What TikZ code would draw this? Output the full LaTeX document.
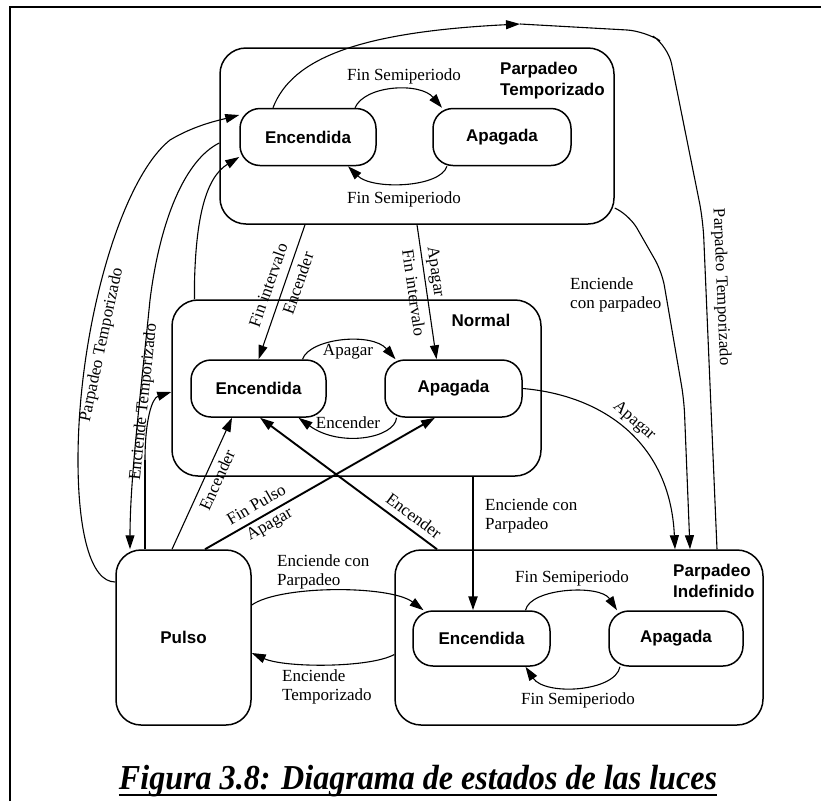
\documentclass[tikz,border=0pt]{standalone}
\usepackage{fontspec}
\setmainfont{Liberation Serif}
\newfontfamily\statefont{Liberation Sans}
\usetikzlibrary{arrows.meta,calc}

\begin{document}
\begin{tikzpicture}[x=1pt,y=-1pt,
  tip/.style={-{Triangle[length=14pt,width=9pt]}},
  conn/.style={line width=1.1pt, tip},
  heavy/.style={line width=2.3pt},
  superstate/.style={draw, line width=1.5pt, rounded corners=26pt, inner sep=0pt},
  substate/.style={draw, line width=1.5pt, rounded corners=20pt, minimum height=57pt,
    inner sep=0pt, font=\statefont\bfseries\fontsize{17}{20}\selectfont},
  lbl/.style={font=\fontsize{17}{19}\selectfont, inner sep=0pt},
  boxtitle/.style={font=\statefont\bfseries\fontsize{17}{21}\selectfont, align=left, inner sep=0pt},
]
\useasboundingbox (0,0) rectangle (821,801);

% page frame
\draw[line width=1.8pt] (10,801) -- (10,7) -- (821,7);

% ---- Parpadeo Temporizado ----
\node[superstate, minimum width=394pt, minimum height=176pt] (ptbox) at (417,136) {};
\node[substate, minimum width=136pt] (pte) at (308,137) {Encendida};
\node[substate, minimum width=138pt] (pta) at (502,137) {Apagada};
\node[boxtitle, anchor=west] (ptname) at (500,81) {Parpadeo\\Temporizado};

% ---- Normal ----
\node[superstate, minimum width=369pt, minimum height=176pt] (nbox) at (356.5,388) {};
\node[substate, minimum width=135pt] (ne) at (258.5,388.5) {Encendida};
\node[substate, minimum width=137pt] (na) at (453.5,388.5) {Apagada};
\node[boxtitle] (nname) at (481,320) {Normal};

% ---- Pulso ----
\node[superstate, minimum width=135pt, minimum height=175pt, rounded corners=25pt,
  font=\statefont\bfseries\fontsize{17}{20}\selectfont] (pulso) at (183.5,637.5) {Pulso};

% ---- Parpadeo Indefinido ----
\node[superstate, minimum width=368pt, minimum height=175pt] (pibox) at (579,637.5) {};
\node[substate, minimum width=137pt, minimum height=55pt] (pei) at (481.5,638.5) {Encendida};
\node[substate, minimum width=134pt, minimum height=55pt] (pai) at (676,638.5) {Apagada};
\node[boxtitle, anchor=west] (piname) at (673,581) {Parpadeo\\Indefinido};

% ---- transitions inside Parpadeo Temporizado ----
\draw[conn] ([xshift=47pt]pte.north) .. controls (365,85) and (420,82) .. ([xshift=-60pt]pta.north);
\node[lbl] (l1) at (404,76) {Fin Semiperiodo};
\draw[conn] ([xshift=-55pt]pta.south) .. controls (440,188) and (372,190) .. ([xshift=40pt]pte.south);
\node[lbl] (l2) at (404,199) {Fin Semiperiodo};

% ---- transitions inside Normal ----
\draw[conn] ([xshift=44pt]ne.north) .. controls (310,338) and (372,332) .. ([xshift=-58pt]na.north);
\node[lbl] (l3) at (348,352) {Apagar};
\draw[conn] ([xshift=-57pt]na.south) .. controls (395,438) and (340,448) .. ([xshift=40pt]ne.south);
\node[lbl] (l4) at (348,423) {Encender};

% ---- transitions inside Parpadeo Indefinido ----
\draw[conn] ([xshift=44pt]pei.north) .. controls (530,588) and (600,584) .. ([xshift=-59pt]pai.north);
\node[lbl] (l5) at (572,578) {Fin Semiperiodo};
\draw[conn] ([xshift=-56pt]pai.south) .. controls (615,692) and (545,696) .. ([xshift=44pt]pei.south);
\node[lbl] (l6) at (578,700) {Fin Semiperiodo};

% ---- Parpadeo Temporizado -> Normal ----
\draw[conn] ([xshift=-112pt]ptbox.south) -- (ne.north);
\node[lbl, rotate=70.7] (l7) at (268,285) {Fin intervalo};
\node[lbl, rotate=70.7] (l8) at (298,283) {Encender};
\draw[conn] (ptbox.south) -- ([xshift=-17pt]na.north);
\node[lbl, rotate=-81.9] (l9) at (435,272) {Apagar};
\node[lbl, rotate=-81.9] (l10) at (414,293) {Fin intervalo};

% ---- Parpadeo Temporizado / Parpadeo Indefinido (over the top) ----
\coordinate (ptop) at (520,24);
\draw[conn] ([xshift=-35pt]pte.north) .. controls (292,58) and (360,32) .. (ptop);
\draw[line width=1.1pt, rounded corners=18pt] (ptop) -- (645,31) -- (668,46) -- (703,220)
  -- ([xshift=138pt]pibox.north);
\node[lbl, rotate=-87.6] (l11) at (721,287) {Parpadeo Temporizado};

\draw[conn, rounded corners=14pt] ([yshift=-72pt]ptbox.east) -- (630,216) -- (662,272)
  -- (684,400) -- ([xshift=111pt]pibox.north);
\node[lbl, anchor=west, align=left] (l12) at (570,295) {Enciende\\con parpadeo};

% ---- Normal -> Parpadeo Indefinido ----
\draw[conn] (na.east) .. controls (600,395) and (670,440) .. ([xshift=96pt]pibox.north);
\node[lbl, rotate=-41] (l13) at (634,421) {Apagar};
\draw[conn, line width=2.3pt] ([xshift=116.5pt]nbox.south) -- ([xshift=-8.5pt]pei.north);
\node[lbl, anchor=west, align=left] (l14) at (485,516) {Enciende con\\Parpadeo};

% ---- Parpadeo Indefinido -> Normal ----
\draw[conn, line width=1.9pt] ([xshift=-142pt]pibox.north) -- ([xshift=1.5pt]ne.south);
\node[lbl, rotate=-36.7] (l15) at (414,516) {Encender};

% ---- Pulso -> Normal ----
\draw[conn, line width=1.9pt] ([xshift=21.5pt]pulso.north) -- ([xshift=-18.5pt]na.south);
\node[lbl, rotate=30] (l16) at (256,504) {Fin Pulso};
\node[lbl, rotate=30] (l17) at (270,525) {Apagar};
\draw[conn] ([xshift=-11.5pt]pulso.north) -- ([xshift=-26.5pt]ne.south);
\node[lbl, rotate=65.6] (l18) at (217,480) {Encender};

% ---- left side transitions ----
\draw[conn] ([yshift=55.5pt]pulso.west) .. controls (90,582) and (78,530) .. (78,460)
  .. controls (78,330) and (120,180) .. (170,140)
  .. controls (195,125) and (220,120) .. ([yshift=22pt]pte.west);
\node[lbl, rotate=78] (l19) at (102,345) {Parpadeo Temporizado};

\draw[conn] ([yshift=-7pt]ptbox.west) .. controls (185,160) and (160,220) .. (150,300)
  .. controls (140,400) and (130,480) .. ([xshift=-53.5pt]pulso.north);
\node[lbl, rotate=84] (l20) at (144,402) {Enciende Temporizado};

\coordinate (k1) at (145,460);
\draw[heavy] ([xshift=-38.5pt]pulso.north) -- (k1);
\draw[conn] (k1) .. controls (145,420) and (152,398) .. ([yshift=-4pt]nbox.west);

\draw[conn] ([xshift=-162pt]nbox.north) -- (194.5,282) .. controls (196,220) and (205,178)
  .. ([yshift=-20pt]pte.west);

% ---- Pulso <-> Parpadeo Indefinido ----
\draw[conn] ([yshift=32.5pt]pulso.east) .. controls (280,585) and (390,585) .. ([xshift=-58pt]pei.north);
\node[lbl, anchor=west, align=left] (l21) at (277,572) {Enciende con\\Parpadeo};
\draw[conn] ([yshift=-17pt]pibox.west) .. controls (370,668) and (285,668) .. ([yshift=-15.5pt]pulso.east);
\node[lbl, anchor=west, align=left] (l22) at (282,687) {Enciende\\Temporizado};

% ---- caption ----
\node[inner sep=0pt, anchor=base] (cap) at (418,789)
  {\resizebox{598pt}{\height}{\fontsize{35}{40}\selectfont\bfseries\itshape Figura 3.8: Diagrama de estados de las luces}};
\draw[line width=2pt] ($(cap.base west)+(0,6)$) -- ($(cap.base east)+(0,6)$);
\end{tikzpicture}
\end{document}
